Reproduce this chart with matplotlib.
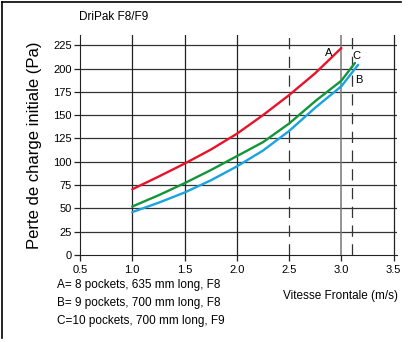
import matplotlib.pyplot as plt
from matplotlib.lines import Line2D

plt.rcParams["font.family"] = ["Liberation Sans", "DejaVu Sans"]

# Curves (velocity m/s, pressure drop Pa)
v_a = [1.0, 1.25, 1.5, 1.75, 2.0, 2.25, 2.5, 2.75, 3.0]
dp_a = [70.5, 84, 98, 113, 130, 150, 171.5, 195, 222]

v_b = [1.0, 1.25, 1.5, 1.75, 2.0, 2.25, 2.5, 2.75, 3.0, 3.16]
dp_b = [46, 56, 67, 80, 95, 112, 133, 158, 181, 204]

v_c = [1.0, 1.25, 1.5, 1.75, 2.0, 2.25, 2.5, 2.75, 3.0, 3.13]
dp_c = [52, 64, 77, 91, 106, 121, 141, 165, 187, 206]

x_ticks = [0.5, 1.0, 1.5, 2.0, 2.5, 3.0, 3.5]
y_ticks = [0, 25, 50, 75, 100, 125, 150, 175, 200, 225]

legend_lines = [
    "A= 8 pockets, 635 mm long, F8",
    "B= 9 pockets, 700 mm long, F8",
    "C=10 pockets, 700 mm long, F9",
]

fig = plt.figure(figsize=(4.09, 3.42), dpi=100)
ax = fig.add_axes([0.1956, 0.2544, 0.7745, 0.6433])

ax.set_xlim(0.5, 3.53)
ax.set_ylim(0, 236)

# horizontal grid
for y in y_ticks[1:]:
    ax.axhline(y, color="#333333", lw=0.9, zorder=1)

# vertical grid, 2.5 dashed
for x in x_ticks[1:]:
    if x == 2.5:
        ax.axvline(x, color="#333333", lw=0.9, ls=(0, (9, 6)), zorder=1)
    elif x == 3.0:
        ax.axvline(x, color="#777777", lw=1.1, zorder=1)
    else:
        ax.axvline(x, color="#222222", lw=0.9, zorder=1)
ax.axvline(3.1, color="#333333", lw=0.9, ls=(0, (9, 6)), zorder=1)

kw = dict(lw=1.7, solid_joinstyle="round", solid_capstyle="round")
ax.plot(v_a, dp_a, color="#e8132a", zorder=3, **kw)
ax.plot(v_c, dp_c, color="#13963a", zorder=3, **kw)
ax.plot(v_b, dp_b, color="#1aa3e0", zorder=4, **kw)

ax.text(2.88, 217, "A", fontsize=8, ha="center", va="center")
ax.text(3.14, 213, "C", fontsize=8, ha="center", va="center")
ax.text(3.165, 188, "B", fontsize=8, ha="center", va="center")

ax.set_xticks(x_ticks)
ax.set_xticklabels([f"{x:.1f}" for x in x_ticks])
ax.set_yticks(y_ticks)
ax.tick_params(labelsize=8, length=4, width=0.9, color="#222222", pad=2)
ax.tick_params(axis="x", pad=3)

for s in ["top", "right"]:
    ax.spines[s].set_visible(False)
ax.spines["left"].set_color("#222222")
ax.spines["bottom"].set_color("#222222")

ax.set_ylabel("Perte de charge initiale (Pa)", fontsize=12, labelpad=8)

fig.text(0.193, 0.95, "DriPak F8/F9", fontsize=8.5, va="center")
for i, line in enumerate(legend_lines):
    fig.text(0.14, 0.167 - i * 0.053, line, fontsize=8.5, va="center")
fig.text(0.974, 0.134, "Vitesse Frontale (m/s)", fontsize=8.5, va="center", ha="right")

# frame on top and left edges
fig.add_artist(Line2D([0.005, 0.98], [0.995, 0.995], color="black", lw=1.2, transform=fig.transFigure))
fig.add_artist(Line2D([0.005, 0.005], [0.995, 0.012], color="black", lw=1.2, transform=fig.transFigure))

fig.savefig("out.png", dpi=100)
